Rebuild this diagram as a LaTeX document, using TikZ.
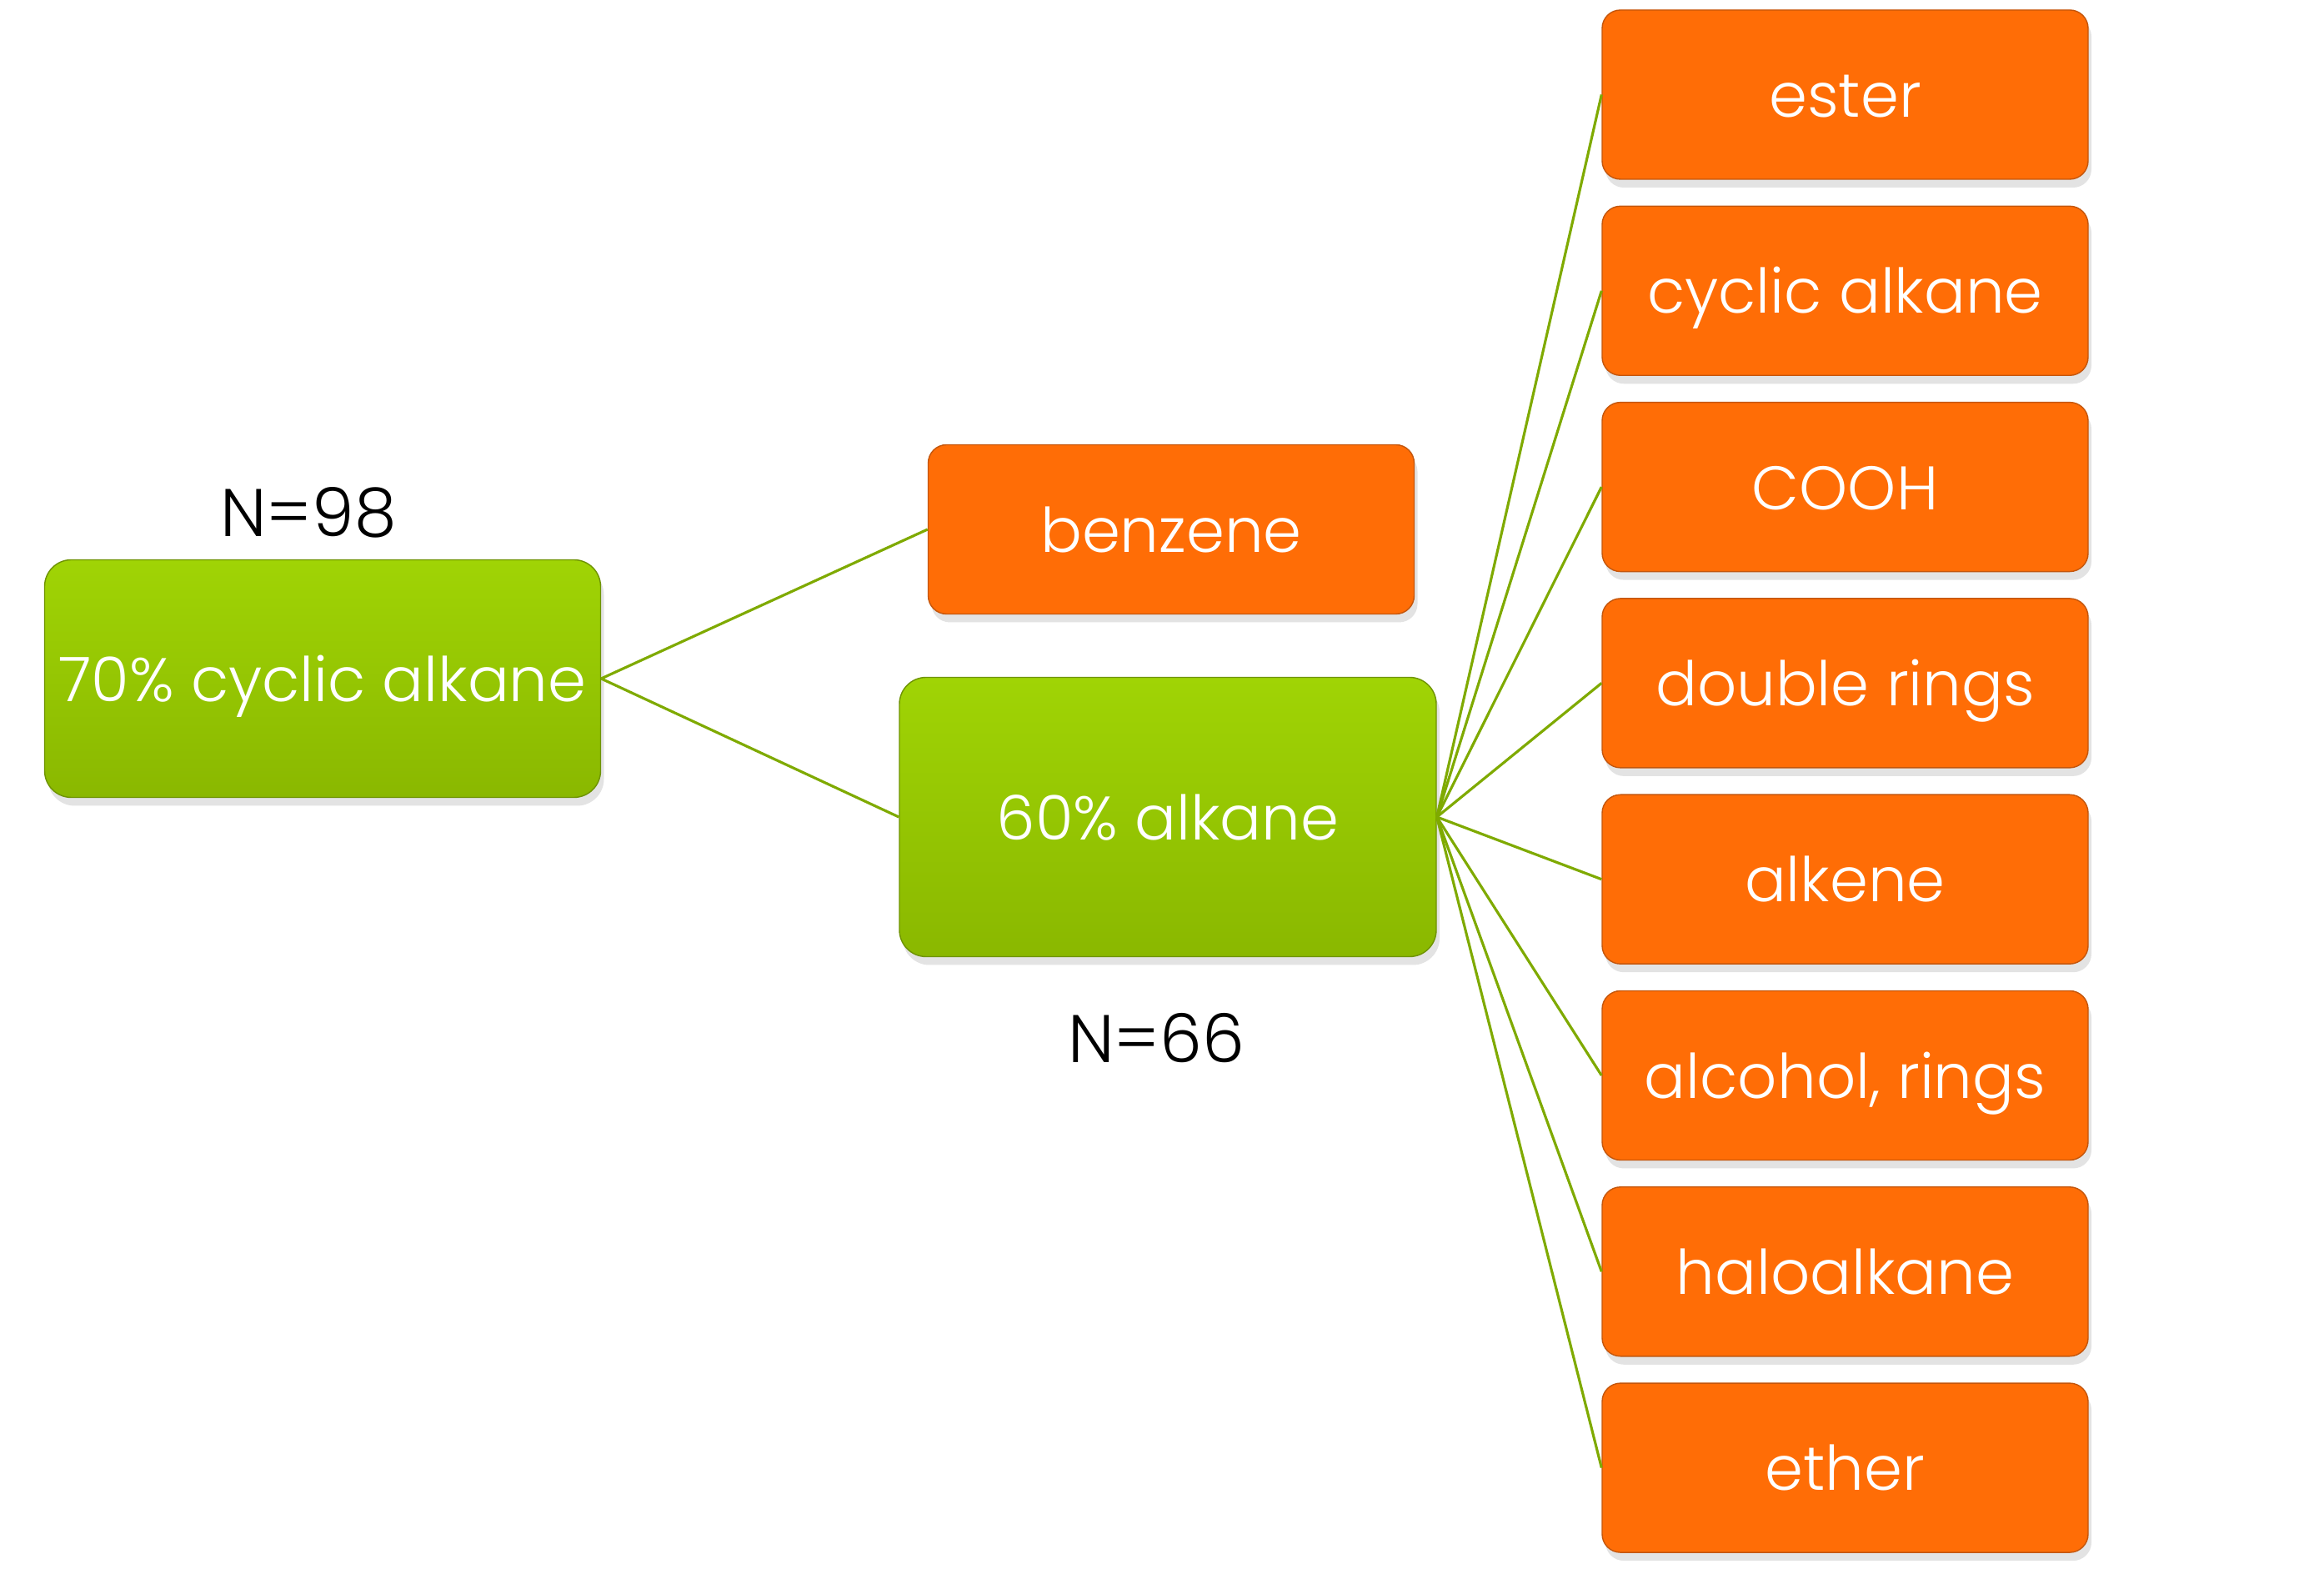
\documentclass[tikz,border=0pt]{standalone}
\usepackage{fontspec}
\setmainfont{Poppins Light}
\usetikzlibrary{shadows}
\definecolor{mikan}{HTML}{FF6D06}
\definecolor{mikandark}{HTML}{C4560C}
\definecolor{wakaba}{HTML}{A0D405}
\definecolor{wakabadark}{HTML}{8AB800}
\definecolor{wakabaline}{HTML}{7FAA00}

\tikzset{
  box/.style={inner sep=0pt, text=white, font=\fontsize{21}{25}\selectfont,
    text height=15.7pt, text depth=0.3pt,
    drop shadow={opacity=0.22, shadow xshift=0.04cm, shadow yshift=-0.1cm}},
  greenbox/.style={box, draw=wakabadark!80!black, rounded corners=0.32cm,
    top color=wakaba, bottom color=wakabadark},
  orangebox/.style={box, draw=mikandark, rounded corners=0.22cm, fill=mikan,
    minimum width=5.83cm, minimum height=2.03cm},
  branch/.style={draw=wakabaline, line width=0.9pt},
  count/.style={font=\fontsize{23}{27}\selectfont}
}

\begin{document}
\begin{tikzpicture}
    \useasboundingbox (0, 0) rectangle (27.88, 18.93);

    \node[greenbox, minimum width=6.67cm, minimum height=2.85cm] (root) at (3.87, 10.79) {70\% cyclic alkane};
    \node[count] (n98) at (3.70, 12.78) {N=98};

    \node[orangebox] (benz) at (14.05, 12.58) {benzene};
    \node[greenbox, minimum width=6.44cm, minimum height=3.35cm] (alk) at (14.01, 9.13) {60\% alkane};
    \node[count] (n66) at (13.87, 6.48) {N=66};

    \draw[branch] (root.east) -- (benz.west);
    \draw[branch] (root.east) -- (alk.west);

    \foreach \lbl [count=\i from 0] in {ester, cyclic alkane, COOH, double rings, alkene, {alcohol, rings}, haloalkane, ether}
    {
        \node[orangebox] (grp\i) at (22.135, {17.795 - 2.353*\i}) {\lbl};
        \draw[branch] (alk.east) -- (grp\i.west);
    }
\end{tikzpicture}
\end{document}
